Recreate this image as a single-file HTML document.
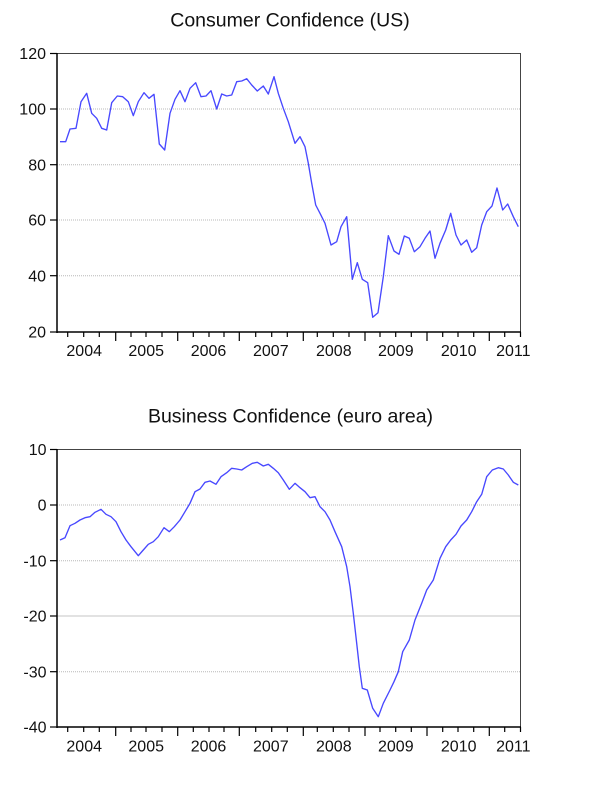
<!DOCTYPE html>
<html>
<head>
<meta charset="utf-8">
<style>
html,body{margin:0;padding:0;background:#fff;}
svg{display:block;}
text{font-family:"Liberation Sans",Arial,sans-serif;fill:#111;}
</style>
</head>
<body>
<svg width="600" height="810" viewBox="0 0 600 810" xmlns="http://www.w3.org/2000/svg">
<rect x="0" y="0" width="600" height="810" fill="#fff"/>

<!-- ===== TOP CHART ===== -->
<text x="290" y="26.7" font-size="19.5" text-anchor="middle">Consumer Confidence (US)</text>

<g stroke="#b8b8b8" stroke-width="1" stroke-dasharray="1,1">
<line x1="57" y1="109" x2="521" y2="109"/>
<line x1="57" y1="164.7" x2="521" y2="164.7"/>
<line x1="57" y1="220" x2="521" y2="220"/>
<line x1="57" y1="275.7" x2="521" y2="275.7"/>
</g>
<g stroke="#444" stroke-width="1">
<line x1="57" y1="53.5" x2="521" y2="53.5"/>
<line x1="520.5" y1="53" x2="520.5" y2="332"/>
</g>
<g stroke="#000" stroke-width="1.5">
<line x1="57" y1="53" x2="57" y2="333"/>
<line x1="56.5" y1="332" x2="521" y2="332"/>
</g>
<g stroke="#000" stroke-width="1.2">
<line x1="50" y1="53.5" x2="57" y2="53.5"/>
<line x1="50" y1="109" x2="57" y2="109"/>
<line x1="50" y1="164.7" x2="57" y2="164.7"/>
<line x1="50" y1="220" x2="57" y2="220"/>
<line x1="50" y1="275.7" x2="57" y2="275.7"/>
<line x1="50" y1="332" x2="57" y2="332"/>
</g>
<g font-size="16" text-anchor="end">
<text x="46" y="59">120</text>
<text x="46" y="114.7">100</text>
<text x="46" y="170.4">80</text>
<text x="46" y="225.7">60</text>
<text x="46" y="281.4">40</text>
<text x="46" y="337.7">20</text>
</g>
<g stroke="#000" stroke-width="1.2">
<line x1="67.7" y1="332" x2="67.7" y2="337"/>
<line x1="83.7" y1="332" x2="83.7" y2="337"/>
<line x1="99.3" y1="332" x2="99.3" y2="337"/>
<line x1="115.7" y1="332" x2="115.7" y2="341"/>
<line x1="131" y1="332" x2="131" y2="337"/>
<line x1="146" y1="332" x2="146" y2="337"/>
<line x1="162" y1="332" x2="162" y2="337"/>
<line x1="177.7" y1="332" x2="177.7" y2="341"/>
<line x1="193.3" y1="332" x2="193.3" y2="337"/>
<line x1="209" y1="332" x2="209" y2="337"/>
<line x1="224" y1="332" x2="224" y2="337"/>
<line x1="239.3" y1="332" x2="239.3" y2="341"/>
<line x1="255.7" y1="332" x2="255.7" y2="337"/>
<line x1="271.7" y1="332" x2="271.7" y2="337"/>
<line x1="287.3" y1="332" x2="287.3" y2="337"/>
<line x1="303.3" y1="332" x2="303.3" y2="341"/>
<line x1="317.3" y1="332" x2="317.3" y2="337"/>
<line x1="333.3" y1="332" x2="333.3" y2="337"/>
<line x1="349" y1="332" x2="349" y2="337"/>
<line x1="365" y1="332" x2="365" y2="341"/>
<line x1="380" y1="332" x2="380" y2="337"/>
<line x1="395.7" y1="332" x2="395.7" y2="337"/>
<line x1="411.3" y1="332" x2="411.3" y2="337"/>
<line x1="427" y1="332" x2="427" y2="341"/>
<line x1="442.7" y1="332" x2="442.7" y2="337"/>
<line x1="458" y1="332" x2="458" y2="337"/>
<line x1="473.7" y1="332" x2="473.7" y2="337"/>
<line x1="489.3" y1="332" x2="489.3" y2="341"/>
<line x1="504.7" y1="332" x2="504.7" y2="337"/>
<line x1="520.5" y1="332" x2="520.5" y2="337"/>
</g>
<g font-size="16" text-anchor="middle">
<text x="84.2" y="356">2004</text>
<text x="146.2" y="356">2005</text>
<text x="208.5" y="356">2006</text>
<text x="270.8" y="356">2007</text>
<text x="333.8" y="356">2008</text>
<text x="395.8" y="356">2009</text>
<text x="458.7" y="356">2010</text>
<text x="513.3" y="356">2011</text>
</g>
<polyline fill="none" stroke="#4848ff" stroke-width="1.35" stroke-linejoin="round" points="
60,141.7 65.7,141.7 70,129 76,128.3 81,101.7 86.7,93.3 91.7,113.3 96.7,118.3 101.7,128.3 106.7,130
111.7,102.7 117.3,96 122.7,96.7 128.3,101.7 133.3,115.7 138.3,101.7 144,92.7 149,98.3 154,94.3 159.3,144
164.7,150 170,113.3 175,99.3 180,90.7 185,101.7 190,88.3 195.7,82.7 201,96.7 206,96 211,90.7
216.7,109 221.7,94 226.7,96 231.7,95 236.7,81.7 241.7,81 246.7,78.7 251.7,85 257.3,91 263.3,86
268.3,94 274,76.7 278.3,93.3 283.3,108.3 288.3,121.7 295,143.3 300,136.7 305,146.7 308.3,163.3 311.7,183.3 315.7,205
320,213.3 325,223.3 331,245 336.7,241.7 341,226.7 346.7,216.7 352.3,279.3 357.3,262.7 362.3,279.3 367.7,282.7
372.7,317.3 378,312.7 383.3,276.7 388.3,235.7 394,251 399,254.3 404.3,236 409.3,238.3 414.3,251.7 420,246.7
425,238.3 430,231 435,258.3 440,243.3 445.7,230 450.7,213.3 456,235 461,245 466.7,240 471.7,252.3
476.7,247.7 481.7,225 486.7,211.7 492,206 497,188 502.7,210 507.7,204 513.3,216.7 518.3,226.7"/>

<!-- ===== BOTTOM CHART ===== -->
<text x="290.5" y="422.3" font-size="19.5" text-anchor="middle">Business Confidence (euro area)</text>

<g stroke="#b8b8b8" stroke-width="1" stroke-dasharray="1,1">
<line x1="57" y1="505" x2="521" y2="505"/>
<line x1="57" y1="560.7" x2="521" y2="560.7"/>
<line x1="57" y1="671.7" x2="521" y2="671.7"/>
</g>
<line x1="57" y1="616" x2="521" y2="616" stroke="#c4c4c4" stroke-width="1"/>
<g stroke="#444" stroke-width="1">
<line x1="57" y1="449.5" x2="521" y2="449.5"/>
<line x1="520.5" y1="449" x2="520.5" y2="727"/>
</g>
<g stroke="#000" stroke-width="1.5">
<line x1="57" y1="449" x2="57" y2="728"/>
<line x1="56.5" y1="727" x2="521" y2="727"/>
</g>
<g stroke="#000" stroke-width="1.2">
<line x1="50" y1="449.5" x2="57" y2="449.5"/>
<line x1="50" y1="505" x2="57" y2="505"/>
<line x1="50" y1="560.7" x2="57" y2="560.7"/>
<line x1="50" y1="616" x2="57" y2="616"/>
<line x1="50" y1="671.7" x2="57" y2="671.7"/>
<line x1="50" y1="727" x2="57" y2="727"/>
</g>
<g font-size="16" text-anchor="end">
<text x="46.5" y="455">10</text>
<text x="46.5" y="510.7">0</text>
<text x="46.5" y="566.4">-10</text>
<text x="46.5" y="621.7">-20</text>
<text x="46.5" y="677.4">-30</text>
<text x="46.5" y="732.7">-40</text>
</g>
<g stroke="#000" stroke-width="1.2">
<line x1="67.7" y1="727" x2="67.7" y2="732"/>
<line x1="83.7" y1="727" x2="83.7" y2="732"/>
<line x1="99.3" y1="727" x2="99.3" y2="732"/>
<line x1="115.7" y1="727" x2="115.7" y2="736"/>
<line x1="131" y1="727" x2="131" y2="732"/>
<line x1="146" y1="727" x2="146" y2="732"/>
<line x1="162" y1="727" x2="162" y2="732"/>
<line x1="177.7" y1="727" x2="177.7" y2="736"/>
<line x1="193.3" y1="727" x2="193.3" y2="732"/>
<line x1="209" y1="727" x2="209" y2="732"/>
<line x1="224" y1="727" x2="224" y2="732"/>
<line x1="239.3" y1="727" x2="239.3" y2="736"/>
<line x1="255.7" y1="727" x2="255.7" y2="732"/>
<line x1="271.7" y1="727" x2="271.7" y2="732"/>
<line x1="287.3" y1="727" x2="287.3" y2="732"/>
<line x1="303.3" y1="727" x2="303.3" y2="736"/>
<line x1="317.3" y1="727" x2="317.3" y2="732"/>
<line x1="333.3" y1="727" x2="333.3" y2="732"/>
<line x1="349" y1="727" x2="349" y2="732"/>
<line x1="365" y1="727" x2="365" y2="736"/>
<line x1="380" y1="727" x2="380" y2="732"/>
<line x1="395.7" y1="727" x2="395.7" y2="732"/>
<line x1="411.3" y1="727" x2="411.3" y2="732"/>
<line x1="427" y1="727" x2="427" y2="736"/>
<line x1="442.7" y1="727" x2="442.7" y2="732"/>
<line x1="458" y1="727" x2="458" y2="732"/>
<line x1="473.7" y1="727" x2="473.7" y2="732"/>
<line x1="489.3" y1="727" x2="489.3" y2="736"/>
<line x1="504.7" y1="727" x2="504.7" y2="732"/>
<line x1="520.5" y1="727" x2="520.5" y2="732"/>
</g>
<g font-size="16" text-anchor="middle">
<text x="84.2" y="751.5">2004</text>
<text x="146.2" y="751.5">2005</text>
<text x="208.5" y="751.5">2006</text>
<text x="270.8" y="751.5">2007</text>
<text x="333.8" y="751.5">2008</text>
<text x="395.8" y="751.5">2009</text>
<text x="458.7" y="751.5">2010</text>
<text x="513.3" y="751.5">2011</text>
</g>
<polyline fill="none" stroke="#4848ff" stroke-width="1.35" stroke-linejoin="round" points="
60,540 65,537.7 70,525.7 75,523.3 80,520 85,517.7 90,516.7 95,512.3 101,509.3 106,514.3
111,516.7 116,521.7 121,531.7 126,540 131,546.7 138.3,555.7 143.3,550 148.3,544.3 153.3,541.7 158.3,536.7
164,527.7 169.3,531.7 174.3,526.7 180,520 185,511.7 190,503.3 195,491.7 200,489 205,482.3 210,481
216,484.3 221,476.7 226.7,472.7 231.7,468.3 236.7,469 241.7,470 246.7,466.7 252.3,463.3 257.3,462.3 263.3,466
268.3,464.3 273.3,468.3 278.3,472.7 283.3,480 289.3,489.3 295,483.3 300,487.7 305,491.7 310,497.7 315,496.7
320,506.7 325,511.7 330,520 335,531.7 341.7,546.7 346.7,566.7 350,586.7 353.3,613.3 356.7,643.3 359.3,666.7
362.3,688.3 367.3,690 372.7,708.3 378.3,716.7 383.3,703.3 390,690 394,681.7 398.3,671.7 402.7,651.7 409.3,640
415,620 421.7,603.3 426.7,590 433.3,580 440,558.3 445.7,546.7 450.7,540 456,534.3 461,526
466.7,520 471.7,511.7 476.7,501.7 481.7,494.3 486.7,476.7 492.3,470 498.3,467.7 503.3,469 508.3,475 513.3,482.3 518.3,485"/>
</svg>
</body>
</html>
